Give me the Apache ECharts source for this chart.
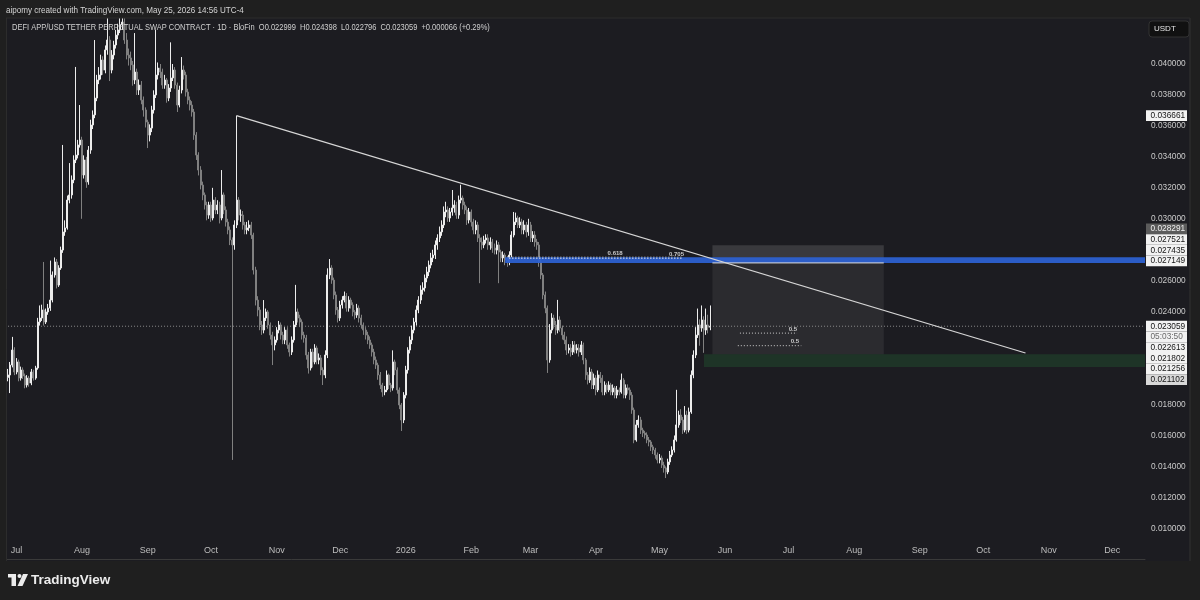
<!DOCTYPE html>
<html><head><meta charset="utf-8">
<script src="https://cdn.jsdelivr.net/npm/echarts/dist/echarts.min.js"></script>
<style>html,body{margin:0;padding:0;background:#1f1f1f;}#c{width:1200px;height:600px;}</style>
</head><body><div id="c"></div>
<script>
// ---------- DATA ----------
const startDate = '2025-06-27';
const dayCount = 538;
const priceUnit = 1e-5;
const firstOpen = 1975;
const closes = [
1991,2055,2152,2010,2075,1971,2023,1984,1926,1971,
1939,2010,1971,2036,2333,2359,2411,2333,2398,2423,
2475,2637,2721,2572,2682,2798,2915,2941,3121,3154,
3251,3380,3412,3477,3509,3283,3380,3238,3444,3606,
3671,3780,3897,3929,4026,3961,4091,4155,3961,4058,
4123,4187,4220,4252,4271,4155,4058,4039,3994,3897,
3948,3832,3864,3767,3703,3625,3541,3586,3703,3800,
3929,3974,3948,3864,3897,3780,3845,3910,3961,3864,
3735,3832,3961,3929,3819,3767,3735,3690,3541,3412,
3315,3218,3154,3089,3024,3089,3005,3121,3057,3089,
3005,3154,3057,2979,2928,2863,2831,2960,3121,3024,
3024,2960,2928,2941,2960,2895,2669,2475,2411,2314,
2281,2359,2398,2314,2249,2185,2217,2281,2314,2249,
2217,2281,2185,2139,2217,2314,2398,2359,2333,2249,
2230,2120,2036,2139,2075,2165,2088,2101,2023,1991,
2120,2637,2682,2604,2508,2411,2359,2443,2475,2501,
2423,2475,2443,2398,2378,2423,2359,2314,2281,2249,
2217,2185,2139,2088,2055,1991,1926,1881,1894,1991,
1926,1907,2075,2023,1894,1797,1700,1861,2023,2152,
2217,2281,2333,2411,2475,2540,2553,2617,2656,2701,
2747,2766,2831,2876,2915,2960,3044,3057,3005,3044,
3070,3089,3024,3121,3134,3089,3057,2992,3044,2979,
2928,2960,2876,2850,2831,2863,2876,2831,2850,2811,
2798,2831,2785,2747,2766,2734,2721,2766,2895,2979,
3005,2960,2979,2928,2960,2915,2960,2876,2895,2850,
2831,2721,2637,2508,2423,2088,2281,2359,2314,2281,
2346,2294,2249,2217,2152,2165,2139,2185,2152,2165,
2139,2185,2088,1991,1958,2010,1926,1971,1894,1991,
1971,1881,1926,1894,1926,1881,1907,1861,1894,1881,
1958,1861,1907,1894,1861,1765,1571,1668,1700,1635,
1616,1603,1571,1558,1526,1506,1474,1442,1454,1409,
1390,1364,1429,1474,1506,1571,1668,1732,1700,1635,
1732,1635,1752,1991,2120,2249,2314,2294,2346,2281,
2314,2300,2306];
const highs = [
2030,2075,2237,2170,2100,2090,2045,2040,2000,1990,
1985,2030,2025,2050,2360,2440,2445,2721,2420,2450,
2730,2660,2750,2740,2700,2820,3477,2990,3150,3360,
3280,3410,3981,3510,3735,3530,3410,3400,3470,3640,
3700,4155,3930,3980,4060,4050,4120,4304,4180,4090,
4150,4220,4260,4300,4310,4300,4200,4100,4080,4020,
4200,3970,3900,3890,3790,3720,3640,3610,3730,3830,
4220,4010,4000,3970,3930,3910,3870,4140,4000,3980,
3880,3860,4045,3990,3950,3840,3790,3760,3710,3560,
3430,3340,3240,3170,3110,3110,3110,3200,3140,3120,
3110,3315,3170,3080,3000,2950,2880,2990,3666,3140,
3060,3050,2980,2980,2990,2980,2910,2690,2500,2430,
2340,2475,2420,2410,2330,2270,2240,2300,2340,2330,
2270,2300,2300,2200,2240,2340,2573,2420,2380,2350,
2270,2250,2140,2160,2160,2190,2180,2130,2120,2040,
2150,2680,2740,2700,2620,2530,2430,2470,2500,2530,
2520,2500,2490,2460,2410,2450,2440,2380,2330,2300,
2270,2240,2200,2160,2110,2070,2010,1940,1920,2020,
2000,1940,2150,2090,2040,1910,1810,1880,2050,2170,
2240,2310,2360,2440,2500,2570,2590,2640,2690,2730,
2780,2800,2860,2900,2950,2990,3080,3110,3080,3070,
3186,3120,3110,3150,3220,3150,3110,3080,3070,3060,
3000,2990,2980,2900,2880,2890,2900,2900,2880,2870,
2840,2860,2850,2800,2790,2780,2760,2790,2920,3044,
3040,3020,3010,3000,2990,2980,3000,2980,2920,2920,
2870,2850,2740,2650,2530,2440,2320,2390,2380,2340,
2476,2370,2310,2270,2240,2190,2190,2210,2210,2190,
2190,2210,2200,2100,2010,2040,2030,2000,1990,2020,
2010,1990,1950,1940,1950,1940,1930,1920,1920,1910,
2000,1970,1930,1930,1910,1880,1780,1700,1730,1720,
1650,1630,1620,1590,1570,1540,1520,1490,1480,1470,
1430,1400,1450,1500,1530,1600,1895,1760,1770,1720,
1790,1760,1780,2020,2150,2300,2420,2350,2440,2370,
2420,2380,2440];
const lows = [
1950,1874,2040,1990,1995,1950,1955,1965,1905,1910,
1915,1925,1955,1960,2025,2310,2340,2310,2320,2380,
2405,2460,2620,2550,2560,2670,2780,2890,2930,3100,
3130,3230,3360,3390,3460,3000,3260,3200,3220,3420,
3580,3650,3760,3870,3900,3930,3940,4060,3890,3940,
4030,4100,4160,4200,4220,4130,4030,3990,3960,3860,
3870,3800,3800,3740,3660,3590,3457,3500,3560,3680,
3780,3900,3910,3840,3840,3750,3760,3820,3890,3840,
3690,3720,3810,3900,3790,3740,3700,3660,3510,3380,
3280,3190,3120,3060,2990,3000,2980,2990,3030,3030,
2970,2990,3030,2950,2900,2830,1442,2800,2940,2990,
2980,2930,2900,2900,2920,2870,2640,2440,2370,2280,
2250,2260,2340,2290,2220,2055,2150,2200,2260,2220,
2190,2190,2160,2110,2120,2200,2300,2330,2300,2220,
2200,2090,2000,2020,2040,2060,2060,2060,1990,1926,
1970,2100,2610,2580,2480,2380,2330,2340,2420,2460,
2400,2400,2420,2370,2350,2360,2330,2290,2250,2220,
2190,2160,2110,2060,2030,1960,1900,1850,1860,1880,
1900,1880,1890,1990,1870,1770,1629,1680,1840,2000,
2130,2190,2260,2310,2390,2450,2510,2530,2590,2630,
2680,2720,2740,2800,2850,2890,2940,3010,2980,2980,
3020,3040,3000,3000,3100,3060,3030,2960,2970,2950,
2900,2900,2850,2584,2800,2810,2840,2800,2800,2780,
2770,2770,2584,2720,2720,2700,2690,2700,2750,2880,
2960,2940,2940,2900,2900,2880,2890,2850,2850,2820,
2800,2690,2610,2480,2390,2004,2070,2260,2290,2250,
2260,2270,2220,2190,2120,2130,2110,2120,2130,2130,
2110,2120,2060,1960,1930,1940,1900,1900,1860,1880,
1940,1860,1860,1870,1880,1860,1860,1840,1840,1860,
1870,1840,1840,1870,1830,1740,1550,1560,1650,1610,
1590,1580,1550,1530,1500,1480,1450,1420,1420,1390,
1360,1325,1350,1410,1460,1490,1560,1650,1680,1610,
1620,1610,1620,1740,1970,2100,2230,2180,2270,2134,
2250,2260,2280];
const lastPrice = 0.023059;
const countdown = '05:03:50';
const headerText = 'DEFI APP/USD TETHER PERPETUAL SWAP CONTRACT · 1D · BloFin  O0.022999  H0.024398  L0.022796  C0.023059  +0.000066 (+0.29%)';
const creditText = 'aipomy created with TradingView.com, May 25, 2026 14:56 UTC-4';
const trendLine = [['2025-10-13', 0.036661], ['2026-10-21', 0.02133]];
const grayBox = ['2026-05-26', '2026-08-15', 0.028291, 0.021102];
const grayBoxHead = ['2026-05-26', '2026-08-15', 0.028291, 0.027149];
const blueZone = ['2026-02-17', null, 0.027521, 0.027149];
const greenZone = ['2026-05-22', null, 0.021256, 0.02042];
const fibLevels = [['0.618', 0.027521, '2026-02-19', '2026-05-12', '2026-04-10'],
                   ['0.705', 0.027435, '2026-02-19', '2026-05-12', '2026-05-09']];
const halfLevels = [['0.5', 0.022613, '2026-06-08', '2026-07-05', '2026-07-03'],
                    ['0.5', 0.021802, '2026-06-07', '2026-07-07', '2026-07-04']];
const yMin = 0.008, yMax = 0.044, yStep = 0.002;
const hiddenTicks = [0.008, 0.020, 0.022, 0.028, 0.042, 0.044];
const priceTagsTop = [['0.028291', 'gray'], ['0.027521', 'white'], ['0.027435', 'white'], ['0.027149', 'white']];
const priceTagsBottom = [['0.023059', 'white'], [countdown, 'time'], ['0.022613', 'white'], ['0.021802', 'white'], ['0.021256', 'white'], ['0.021102', 'light']];
const monthNames = ['Jan','Feb','Mar','Apr','May','Jun','Jul','Aug','Sep','Oct','Nov','Dec'];

// ---------- BUILD ----------
const dates = [];
const t0 = Date.parse(startDate + 'T00:00:00Z');
for (let i = 0; i < dayCount; i++) dates.push(new Date(t0 + i * 86400000).toISOString().slice(0, 10));
const idx = s => dates.indexOf(s);
const lastIdx = dayCount - 1;
const ohlc = closes.map((c, i) => [
  (i ? closes[i - 1] : firstOpen) * priceUnit, c * priceUnit, lows[i] * priceUnit, highs[i] * priceUnit]);

const zonesBack = [
  [idx(grayBox[0]), idx(grayBox[1]), grayBox[2], grayBox[3], 0],
  [idx(grayBoxHead[0]), idx(grayBoxHead[1]), grayBoxHead[2], grayBoxHead[3], 1],
  [idx(greenZone[0]), lastIdx, greenZone[2], greenZone[3], 2]
];
const zonesFront = [[idx(blueZone[0]), lastIdx, blueZone[2], blueZone[3], 3]];
const zoneFill = ['rgba(255,255,255,0.065)', 'rgba(255,255,255,0.07)', '#1e3427', 'rgba(44,96,208,0.95)'];

function renderZone(params, api) {
  const cs = params.coordSys;
  const x0 = api.value(0), x1 = api.value(1);
  const p0 = api.coord([x0, api.value(2)]);
  const p1 = api.coord([x1, api.value(3)]);
  const right = x1 === lastIdx ? cs.x + cs.width : p1[0];
  return { type: 'rect', shape: { x: p0[0], y: p0[1], width: right - p0[0], height: p1[1] - p0[1] },
    style: { fill: zoneFill[api.value(4)] } };
}

const dotted = (a, b, v, color, z) => ({
  type: 'line', data: [[a, v], [b, v]], symbol: 'none', silent: true, z: z || 5,
  lineStyle: { color: color, width: 1, type: [1, 2] }
});

const lineSeries = [];
fibLevels.forEach(f => lineSeries.push(dotted(idx(f[2]), idx(f[3]), f[1], '#e8e8e8')));
halfLevels.forEach(f => lineSeries.push(dotted(idx(f[2]), idx(f[3]), f[1], '#cfcfcf')));
lineSeries.push(dotted(0, lastIdx, lastPrice, '#8c8c8c', 1.5));

const levelLabels = fibLevels.concat(halfLevels).map(f => ({ value: [idx(f[4]), f[1]], name: f[0] }));

const chart = echarts.init(document.getElementById('c'), null, { renderer: 'canvas' });
const gridTop = 2.1, gridBottom = 40.7;
chart.setOption({
  backgroundColor: '#1c1c21',
  animation: false,
  grid: { left: 7, right: 55, top: gridTop, bottom: gridBottom, show: false },
  xAxis: {
    type: 'category', data: dates, boundaryGap: true,
    axisLine: { show: true, lineStyle: { color: '#3a3a3a' } },
    axisTick: { show: false }, splitLine: { show: false },
    axisLabel: {
      inside: true, margin: 4, color: '#bdbdbd', fontSize: 9, fontFamily: 'Liberation Sans, Arial, sans-serif',
      showMinLabel: true, showMaxLabel: true,
      interval: (i, v) => v.slice(8) === '01',
      formatter: v => { const m = +v.slice(5, 7); return m === 1 ? v.slice(0, 4) : monthNames[m - 1]; }
    }
  },
  yAxis: {
    type: 'value', position: 'right', min: yMin, max: yMax, interval: yStep, scale: false,
    axisLine: { show: false }, axisTick: { show: false }, splitLine: { show: false },
    axisLabel: {
      margin: 6, color: '#cacaca', fontSize: 8.3, fontFamily: 'Liberation Sans, Arial, sans-serif',
      formatter: v => hiddenTicks.some(h => Math.abs(h - v) < 1e-7) ? '' : v.toFixed(6)
    }
  },
  series: [
    { type: 'custom', renderItem: renderZone, data: zonesBack, z: 1, silent: true,
      encode: { x: [0, 1], y: [2, 3] } },
    { type: 'candlestick', data: ohlc, barWidth: 1.5, z: 2,
      itemStyle: { color: '#ececec', color0: '#808080', borderColor: '#ececec', borderColor0: '#808080', borderWidth: 1 } },
    { type: 'custom', renderItem: renderZone, data: zonesFront, z: 3, silent: true,
      encode: { x: [0, 1], y: [2, 3] } },
    { type: 'line', data: [[idx(grayBoxHead[0]), grayBoxHead[3]], [idx(grayBoxHead[1]), grayBoxHead[3]]],
      symbol: 'none', z: 4, lineStyle: { color: '#dcdcdc', width: 1 } },
    { type: 'line', data: trendLine.map(p => [idx(p[0]), p[1]]), symbol: 'none', z: 6,
      lineStyle: { color: '#d6d6d6', width: 1.2 } },
    ...lineSeries,
    { type: 'scatter', data: levelLabels, symbolSize: 0, z: 7, silent: true,
      label: { show: true, position: 'top', distance: 1, formatter: p => p.name,
        color: '#f0f0f0', fontSize: 6, fontWeight: 'bold', fontFamily: 'Liberation Sans, Arial, sans-serif' } }
  ]
});

// ---------- OVERLAYS (frame, header, price tags) ----------
const yOf = v => chart.convertToPixel({ yAxisIndex: 0 }, v);
const tagX = 1146, tagW = 41, rowH = 10.7;
const tagStyle = {
  white: { bg: '#f2f2f2', fg: '#141414' }, time: { bg: '#f2f2f2', fg: '#6a6a6a' },
  gray: { bg: '#5b5b5b', fg: '#f0f0f0' }, light: { bg: '#d8d8d8', fg: '#141414' }
};
const elems = [];
function tag(text, kind, cy) {
  const s = tagStyle[kind];
  elems.push({ type: 'rect', z: 100, shape: { x: tagX, y: cy - rowH / 2, width: tagW, height: rowH }, style: { fill: s.bg } });
  elems.push({ type: 'text', z: 101, x: tagX + 4.5, y: cy,
    style: { text: text, fill: s.fg, fontSize: 8.3, fontFamily: 'Liberation Sans, Arial, sans-serif', verticalAlign: 'middle' } });
}
tag(trendLine[0][1].toFixed(6), 'white', yOf(trendLine[0][1]));
const topAnchor = yOf(+priceTagsTop[priceTagsTop.length - 1][0]) - 2;
priceTagsTop.forEach((t, k) => tag(t[0], t[1], topAnchor - (priceTagsTop.length - 1 - k) * rowH));
const botAnchor = yOf(lastPrice);
priceTagsBottom.forEach((t, k) => tag(t[0], t[1], botAnchor + k * rowH));

// frame pieces
elems.push({ type: 'rect', z: 90, shape: { x: 0, y: 0, width: 1200, height: 18 }, style: { fill: '#1f1f1f' } });
elems.push({ type: 'rect', z: 90, shape: { x: 0, y: 561, width: 1200, height: 39 }, style: { fill: '#1f1f1f' } });
elems.push({ type: 'rect', z: 90, shape: { x: 0, y: 0, width: 6, height: 600 }, style: { fill: '#1f1f1f' } });
elems.push({ type: 'rect', z: 90, shape: { x: 1190, y: 0, width: 10, height: 600 }, style: { fill: '#1f1f1f' } });
elems.push({ type: 'line', z: 91, shape: { x1: 1190, y1: 18, x2: 1190, y2: 561 }, style: { stroke: '#333333', lineWidth: 1 } });
elems.push({ type: 'line', z: 91, shape: { x1: 6, y1: 18, x2: 1190, y2: 18 }, style: { stroke: '#2c2c2c', lineWidth: 1 } });
elems.push({ type: 'line', z: 91, shape: { x1: 6.5, y1: 18, x2: 6.5, y2: 561 }, style: { stroke: '#2c2c2c', lineWidth: 1 } });
// credit + header
elems.push({ type: 'text', z: 95, x: 6, y: 10, scaleX: 0.87,
  style: { text: creditText, fill: '#d4d4d4', fontSize: 9.3, fontFamily: 'Liberation Sans, Arial, sans-serif', verticalAlign: 'middle' } });
elems.push({ type: 'text', z: 95, x: 12, y: 27.5, scaleX: 0.8,
  style: { text: headerText, fill: '#d0d0d0', fontSize: 9.4, fontFamily: 'Liberation Sans, Arial, sans-serif', verticalAlign: 'middle' } });
// USDT button
elems.push({ type: 'rect', z: 95, shape: { x: 1149, y: 21, width: 40, height: 16, r: 3 }, style: { fill: '#111111', stroke: '#333333', lineWidth: 1 } });
elems.push({ type: 'text', z: 96, x: 1154, y: 29, style: { text: 'USDT', fill: '#e6e6e6', fontSize: 8, fontFamily: 'Liberation Sans, Arial, sans-serif', verticalAlign: 'middle' } });
// footer logo
elems.push({ type: 'rect', z: 95, shape: { x: 8, y: 574, width: 8, height: 3.5 }, style: { fill: '#ececec' } });
elems.push({ type: 'rect', z: 95, shape: { x: 11.5, y: 574, width: 4.5, height: 12 }, style: { fill: '#ececec' } });
elems.push({ type: 'circle', z: 95, shape: { cx: 19.5, cy: 576, r: 2 }, style: { fill: '#ececec' } });
elems.push({ type: 'polygon', z: 95, shape: { points: [[23, 574], [28, 574], [22.5, 586], [17.5, 586]] }, style: { fill: '#ececec' } });
elems.push({ type: 'text', z: 95, x: 31, y: 580.5,
  style: { text: 'TradingView', fill: '#ececec', fontSize: 13.5, fontWeight: 'bold', fontFamily: 'Liberation Sans, Arial, sans-serif', verticalAlign: 'middle' } });

chart.setOption({ graphic: { elements: elems } });
</script>
</body></html>
